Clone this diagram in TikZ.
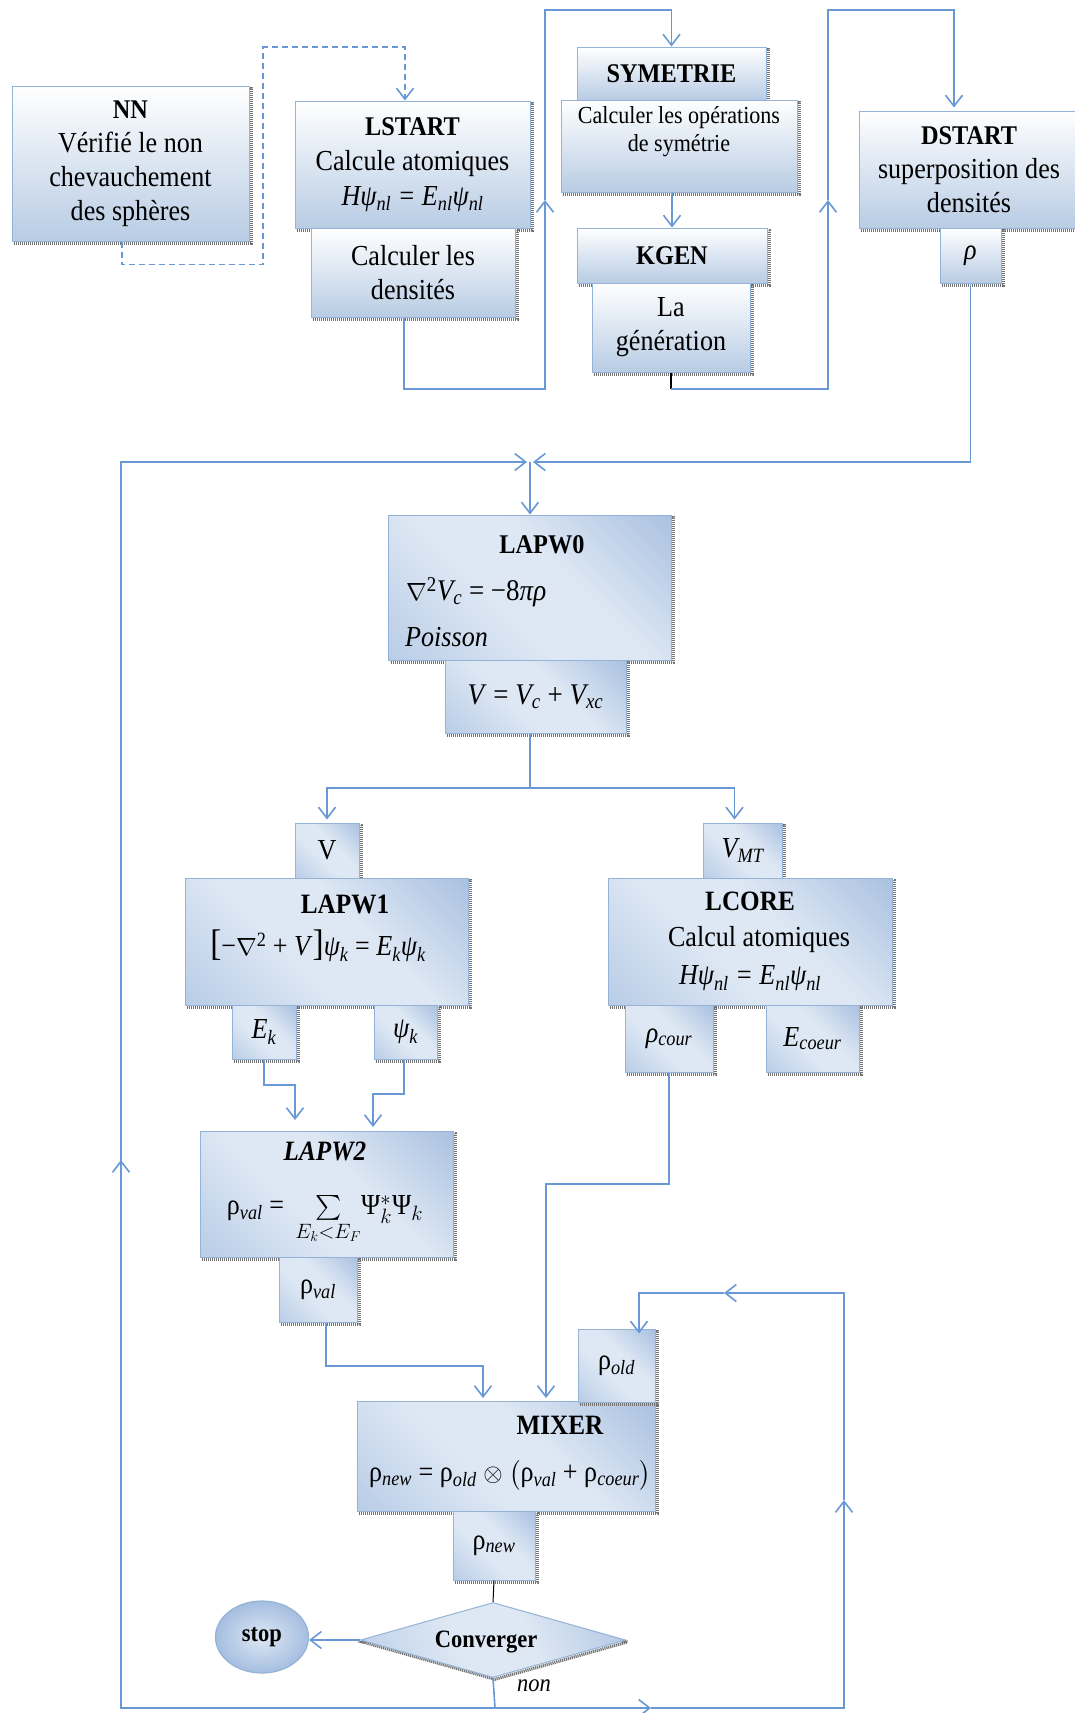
\documentclass[tikz,border=0pt]{standalone}
\usepackage{amsmath}
\usepackage{fontspec}
\setmainfont{Liberation Serif}[FakeStretch=0.9]
\usetikzlibrary{arrows.meta,shapes.geometric,calc}
\definecolor{ln}{RGB}{104,152,214}
\definecolor{bd}{RGB}{149,179,215}
\definecolor{lt}{RGB}{222,232,244}
\definecolor{dk}{RGB}{142,172,214}
\definecolor{md}{RGB}{165,190,224}
\definecolor{bot}{RGB}{184,204,228}
\pgfdeclarehorizontalshading{diagblue}{100bp}{color(0bp)=(md); color(42bp)=(lt); color(58bp)=(lt); color(100bp)=(dk)}
\newcommand\sbs[1]{\textsubscript{#1}}
\newcommand\sps[1]{\textsuperscript{#1}}
\newcommand\bigbr[1]{{\fontsize{37}{37}\selectfont #1}}
\begin{document}
\begin{tikzpicture}[x=1pt,y=-1pt,
  every node/.style={inner sep=0pt, font=\fontsize{29}{34}\selectfont, text=black},
  sh/.style={preaction={draw=black!55, line width=3pt, dash pattern=on 1.2pt off 0.8pt, transform canvas={shift={(2pt,-2pt)}}}},
  topbox/.style={sh, rectangle, draw=bd, line width=1pt, top color=white, bottom color=bot, align=center},
  lowbox/.style={sh, rectangle, draw=bd, line width=1pt, shading=diagblue, shading angle=45, align=center},
  conn/.style={draw=ln, line width=1.6pt},
  arr/.style={conn, -{Straight Barb[length=11pt,width=17pt,line width=1.6pt]}},
  hdr/.style={font=\fontsize{27}{32}\selectfont\bfseries},
  sm/.style={font=\fontsize{24.5}{28}\selectfont}
]
\useasboundingbox (0,0) rectangle (1075,1713);
\fill[white] (0,0) rectangle (1075,1713);
\clip (0,0) rectangle (1075,1713);

% ---------- top row ----------
\node[topbox, minimum width=237pt, minimum height=155pt] (NN) at (130.5,163.5)
  {{\bfseries\fontsize{27}{32}\selectfont NN}\\Vérifié le non\\chevauchement\\des sphères};
\node[topbox, minimum width=235pt, minimum height=127pt] (LSTART) at (412.5,164.5)
  {{\bfseries\fontsize{27}{32}\selectfont LSTART}\\[1pt]Calcule atomiques\\[1pt]\textit{Hψ\sbs{nl} = E\sbs{nl}ψ\sbs{nl}}};
\node[topbox, minimum width=204pt, minimum height=89pt] (CalcDens) at (413,272.5)
  {Calculer les\\densités};

\node[topbox, hdr, minimum width=189pt, minimum height=53pt] (SYM) at (671.5,73.5) {SYMETRIE};
\node[topbox, sm, minimum width=236pt, minimum height=92pt] (CalcOps) at (679,146)
  {Calculer les opérations\\de symétrie\\[6pt]};
\node[topbox, hdr, minimum width=190pt, minimum height=55pt] (KGEN) at (672,255.5) {KGEN};
\node[topbox, minimum width=158pt, minimum height=89pt] (LaGen) at (671,327.5) {La\\génération};

\node[topbox, minimum width=220pt, minimum height=117pt] (DSTART) at (969,169.5)
  {{\bfseries\fontsize{27}{32}\selectfont DSTART}\\superposition des\\densités};
\node[topbox, minimum width=61pt, minimum height=55pt] (rho) at (970.5,255.5) {\textit{ρ}};

% ---------- LAPW0 ----------
\node[lowbox, minimum width=283pt, minimum height=145pt] (LAPW0) at (530,587.5) {};
\node[hdr] (t0) at (542,545) {LAPW0};
\node[anchor=west, font=\fontsize{30}{34}\selectfont] (e0) at (406,592)
  {$\nabla$\sps{2}\textit{V\sbs{c}} = −8\textit{πρ}};
\node[anchor=west] (p0) at (405,637) {\textit{Poisson}};
\node[lowbox, minimum width=181pt, minimum height=73pt, font=\fontsize{30}{34}\selectfont] (Veq) at (535.5,696.5)
  {\textit{V} = \textit{V\sbs{c}} + \textit{V\sbs{xc}}};

% ---------- LAPW1 ----------
\node[lowbox, minimum width=64pt, minimum height=55pt] (Vbox) at (327,850.5) {V};
\node[lowbox, minimum width=283pt, minimum height=127pt] (LAPW1) at (326.5,941.5) {};
\node[font=\fontsize{28}{32}\selectfont\bfseries] (t1) at (345,904) {LAPW1};
\node (e1) at (318,946)
  {\bigbr{[}−$\nabla$\sps{2} + \textit{V}\bigbr{]}\textit{ψ\sbs{k}} = \textit{E\sbs{k}ψ\sbs{k}}};
\node[lowbox, minimum width=64pt, minimum height=54pt] (Ek) at (264,1032) {\textit{E\sbs{k}}};
\node[lowbox, minimum width=63pt, minimum height=54pt] (psik) at (405.5,1032) {\textit{ψ\sbs{k}}};

% ---------- LCORE ----------
\node[lowbox, minimum width=79pt, minimum height=55pt] (VMT) at (742.5,850.5) {\textit{V\sbs{MT}}};
\node[lowbox, minimum width=284pt, minimum height=127pt] (LCORE) at (750,941.5)
  {{\bfseries\fontsize{28}{32}\selectfont LCORE}\\[2pt]\hspace*{18pt}Calcul atomiques\\[4pt]\textit{Hψ\sbs{nl} = E\sbs{nl}ψ\sbs{nl}}};
\node[lowbox, minimum width=88pt, minimum height=67pt] (rhocour) at (669,1038.5) {\textit{ρ\sbs{cour}}};
\node[lowbox, minimum width=93pt, minimum height=67pt] (Ecoeur) at (812.5,1038.5) {\textit{E\sbs{coeur}}};

% ---------- LAPW2 ----------
\node[lowbox, minimum width=253pt, minimum height=126pt] (LAPW2) at (326.5,1194) {};
\node[align=center] (t2) at (325,1193)
  {{\fontsize{28}{32}\selectfont\bfseries\itshape LAPW2}\\[20pt]
   ρ\sbs{\textit{val}} = \,$\sum\limits_{E_k<E_F}$Ψ$^{*}_{k}$Ψ$_{k}$};
\node[lowbox, minimum width=78pt, minimum height=65pt] (rhoval) at (318,1289.5) {ρ\sbs{\textit{val}}};

% ---------- MIXER ----------
\node[lowbox, minimum width=298pt, minimum height=110pt] (MIXER) at (506,1456) {};
\node[align=center] (tm) at (510,1453)
  {\hspace*{100pt}{\bfseries\fontsize{28}{32}\selectfont MIXER}\\[13pt]
   ρ\sbs{\textit{new}} = ρ\sbs{\textit{old}} $\otimes$ $\bigl($ρ\sbs{\textit{val}} + ρ\sbs{\textit{coeur}}$\bigr)$};
\node[lowbox, minimum width=77pt, minimum height=73pt] (rhoold) at (616.5,1365.5) {ρ\sbs{\textit{old}}};
\node[lowbox, minimum width=82pt, minimum height=69pt] (rhonew) at (494,1545.5) {ρ\sbs{\textit{new}}};

% ---------- decision ----------
\node[sh, diamond, aspect=3.5, draw=bd, line width=1pt, shading=diagblue, shading angle=20,
      minimum width=265pt, minimum height=75pt] (D) at (493,1640) {};
\node[font=\fontsize{25}{30}\selectfont\bfseries] (tc) at (486,1642) {Converger};
\node[ellipse, draw=bd, line width=1.2pt, inner color=lt, outer color=md,
      minimum width=93pt, minimum height=72pt, font=\fontsize{25}{30}\selectfont\bfseries] (stop) at (262,1637) {stop};
\node[font=\fontsize{25}{30}\selectfont\itshape] (non) at (534,1686) {non};

% ---------- connectors ----------
\draw[conn, dash pattern=on 6pt off 4pt, -{Straight Barb[length=11pt,width=17pt,line width=1.6pt]}]
  ([xshift=-8.5pt]NN.south) -- ++(0,23) -| (263,47) -| ([xshift=-7.5pt]LSTART.north);

\coordinate (a1) at (545,200);
\draw[arr] ([xshift=-9pt]CalcDens.south) |- (545,389) -- (a1);
\draw[arr] (a1) -- (545,10) -| (SYM.north);
\draw[arr] (KGEN.north |- CalcOps.south) -- (KGEN.north);

\coordinate (k1) at (671,389);
\coordinate (a2) at (828,200);
\draw[black, line width=1.2pt] (LaGen.south) -- (k1);
\draw[arr] (k1) -- (828,389) -- (a2);
\draw[arr] (a2) -- (828,10) -| ([xshift=-15pt,yshift=3pt]DSTART.north);

\coordinate (J) at (530,462);
\draw[arr] (rho.south) |- ([xshift=3pt]J);
\coordinate (L1) at (121,1160);
\draw[arr] (L1) |- ([xshift=-3pt]J);
\draw[arr] (J) -- (LAPW0.north);

\coordinate (S) at (530,788);
\draw[conn] (Veq.south -| S) -- (S);
\draw[arr] (S) -| ([yshift=3pt]Vbox.north);
\draw[arr] (S) -| ([xshift=-8pt,yshift=3pt]VMT.north);

\draw[arr] (Ek.south) |- (295,1085) -- (295,1120);
\draw[arr] ([xshift=-1.5pt]psik.south) |- (373,1094) -- (373,1127);
\draw[arr] (rhocour.south) |- (546,1184) -- (546,1398);
\draw[arr] ([xshift=8pt]rhoval.south) |- (483,1366) -- (483,1398);

\draw[black, line width=1pt] (rhonew.south) -- (D.north);
\draw[arr] (D.west) -- (stop.east |- D.west);

\coordinate (B) at (495,1708);
\coordinate (R1) at (651,1708);
\coordinate (R2) at (844,1500);
\coordinate (R3) at (724,1293);
\draw[conn] (D.south) -- (B);
\draw[conn] (B) -- (121,1708) -- (L1);
\draw[arr] (121,1708) -- (L1);
\draw[arr] (B) -- (R1);
\draw[arr] (R1) -- (844,1708) -- (R2);
\draw[arr] (R2) |- (R3);
\draw[arr] (R3) -| ([xshift=22.5pt,yshift=-5pt]rhoold.north);
\end{tikzpicture}
\end{document}
